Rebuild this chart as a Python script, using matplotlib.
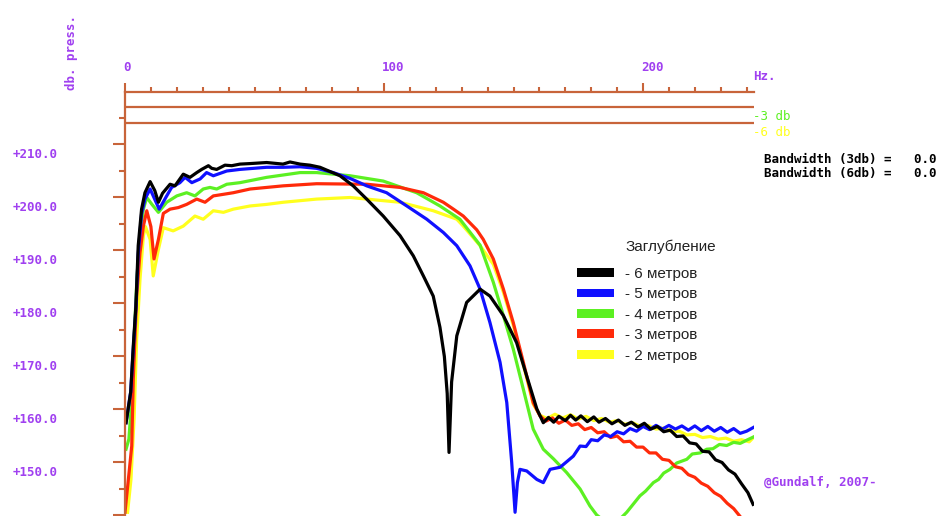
import matplotlib
matplotlib.use('Agg')
import matplotlib.pyplot as plt
from matplotlib.patches import Patch
from matplotlib.transforms import ScaledTranslation

# ---------------- data ----------------
x_major_ticks = [0, 100, 200]
x_major_labels = ['0', '100', '200']
x_minor_ticks = [10, 20, 30, 40, 50, 60, 70, 80, 90, 110, 120, 130, 140, 150, 160, 170, 180, 190, 210, 220, 230, 240]
y_major_ticks = [140, 150, 160, 170, 180, 190, 200, 210]
y_major_labels = ['', '+150.0', '+160.0', '+170.0', '+180.0', '+190.0', '+200.0', '+210.0']
y_minor_ticks = [145, 155, 165, 175, 185, 195, 205, 215]
level_lines = [217, 214]   # -3 db and -6 db reference lines

series_names = ['- 6 метров', '- 5 метров', '- 4 метров', '- 3 метров', '- 2 метров']

black_hz = [0.4, 2.2, 3.2, 4.2, 5.1, 6.4, 7.7, 9.7, 11.5, 12.9, 14.5, 17.4, 19.3, 22.5, 25.1, 27.7,
            29.6, 32.2, 33.5, 35.4, 38.6, 41.2, 44.4, 48.3, 54.7, 61.0, 63.7, 67.6, 71.4, 75.3, 83.0, 88.1, 93.3,
            99.7, 106.2, 111.3, 115.2, 119.0, 121.6, 123.3, 124.4, 125.1, 126.1, 128.1, 131.9, 137.1, 140.9,
            146.1, 151.2, 155.1, 159.0,
            161.5, 163.5, 165.5, 167.5, 170.0, 172.0, 174.0, 176.0, 178.5, 181.0, 183.0, 185.5, 188.0, 190.5,
            193.0, 195.5, 198.0, 200.5, 203.0, 205.5, 208.0, 210.5, 213.0, 215.5, 218.0, 220.5, 223.0, 225.5,
            228.0, 230.5, 233.0, 235.5, 238.0, 240.5, 242.5]
black_db = [157.5, 163.3, 172.0, 179.5, 190.9, 197.8, 200.9, 203.0, 201.3, 199.1, 200.8, 202.5, 202.2, 204.4,
            203.8, 204.7, 205.3, 206.0, 205.5, 205.3, 206.1, 206.0, 206.3, 206.4, 206.6, 206.3, 206.7, 206.3,
            206.1, 205.7, 204.1, 202.2, 199.7, 196.5, 192.8, 189.0, 185.2, 181.4, 175.5, 170.0, 163.0, 151.9,
            165.2, 173.9, 180.2, 182.7, 181.4, 177.7, 172.6, 166.3, 160.1,
            157.5, 158.5, 157.6, 158.7, 157.9, 158.9, 158.0, 158.8, 157.7, 158.6, 157.6, 158.3, 157.3, 158.0,
            157.0, 157.6, 156.7, 157.4, 156.3, 156.8, 155.8, 156.1, 154.9, 155.0, 153.7, 153.5, 152.1, 152.0,
            150.5, 150.0, 148.6, 147.8, 146.0, 144.3, 142.1]

blue_hz = [0.4, 2.2, 3.2, 4.2, 5.1, 6.4, 7.7, 9.7, 13.2, 16.1, 18.0, 21.2, 23.2, 25.8, 29.0, 31.5, 34.1, 39.3, 44.4,
           54.7, 61.1, 67.6, 74.0, 80.4, 86.9, 93.3, 101.0, 108.8, 116.5, 122.9, 128.1, 133.2, 137.1, 140.9, 144.8,
           147.4, 149.3, 150.6, 151.5, 152.5, 155.1, 159.0, 161.5, 164.1, 168.0, 173.1, 175.7,
           178.0, 180.0, 182.5, 185.0, 187.5, 190.0, 192.5, 195.0, 197.5, 200.0, 202.5, 205.0, 207.5, 210.0,
           212.5, 215.0, 217.5, 220.0, 222.5, 225.0, 227.5, 230.0, 232.5, 235.0, 237.5, 240.0, 242.6]
blue_db = [157.5, 163.3, 171.4, 178.9, 189.3, 196.9, 199.7, 201.6, 197.8, 200.3, 201.9, 202.8, 203.8, 202.8, 203.5,
           204.7, 204.1, 205.0, 205.3, 205.7, 205.7, 205.8, 205.5, 204.7, 203.6, 202.2, 200.9, 198.4, 195.9, 193.4,
           190.9, 187.1, 182.7, 176.4, 168.9, 161.3, 150.0, 140.6, 146.2, 148.7, 148.4, 146.8, 146.2, 148.7, 149.1,
           151.2, 153.1,
           153.0, 154.3, 154.1, 155.2, 154.9, 155.8, 155.4, 156.4, 155.9, 156.8, 156.2, 157.0, 156.3, 157.0,
           156.3, 156.9, 156.1, 156.9, 156.0, 156.8, 155.9, 156.6, 155.7, 156.4, 155.5, 155.9, 156.6]

green_hz = [0.4, 1.5, 2.6, 3.5, 4.6, 5.8, 7.1, 8.4, 10.4, 12.9, 16.1, 20.0, 23.8, 27.0, 30.2, 32.8, 35.4, 39.3, 44.4,
            54.7, 67.6, 74.0, 86.9, 99.7, 112.6, 121.6, 129.3, 137.1, 142.2, 146.1, 149.9, 153.8, 157.6, 161.5,
            165.4, 170.5, 175.7, 179.5, 182.1, 188.0, 193.7, 198.8, 201.0, 204.0, 206.0, 208.0, 210.4, 213.0,
            216.9, 219.0, 222.0, 224.6, 227.0, 229.5, 232.3, 235.0, 237.5, 240.0, 242.6]
green_db = [152.5, 154.4, 161.9, 173.3, 184.6, 193.1, 197.8, 200.0, 198.7, 197.2, 199.1, 200.3, 200.9, 200.3, 201.6,
            201.9, 201.6, 202.5, 202.8, 203.8, 204.7, 204.7, 204.1, 203.1, 200.9, 198.4, 195.9, 191.0, 184.0, 177.7,
            171.4, 163.8, 156.3, 152.5, 150.7, 148.1, 145.0, 141.8, 140.1, 137.8, 140.6, 143.7, 144.6, 146.2,
            146.8, 148.0, 148.7, 149.9, 150.6, 151.6, 151.8, 152.5, 152.6, 153.4, 153.2, 153.8, 153.6, 154.2,
            154.8]

red_hz = [0.0, 1.3, 2.6, 3.2, 4.5, 5.8, 7.1, 8.4, 10.0, 11.2, 12.9, 14.8, 17.4, 20.6, 23.8, 27.7, 30.9, 34.1, 38.0,
          41.8, 48.3, 54.7, 61.1, 67.6, 74.0, 93.3, 106.2, 115.2, 122.9, 126.8, 130.6, 135.8, 138.3, 142.2, 146.1,
          149.9, 153.8, 157.6, 160.2, 162.5, 165.0, 167.5, 170.0, 172.5, 175.0, 177.5, 180.0, 182.5, 185.0, 187.5,
          190.0, 192.5, 195.0, 197.5, 200.0, 202.5, 205.0, 207.5, 210.0, 212.5, 215.0, 217.5, 220.0, 222.5,
          225.0, 227.5, 230.0, 232.5, 235.0, 237.5, 239.4]
red_db = [140.6, 146.8, 153.1, 165.7, 181.4, 189.6, 194.6, 197.5, 194.5, 188.4, 192.1, 197.0, 197.8, 198.1, 198.7,
          199.7, 199.1, 200.3, 200.6, 200.9, 201.6, 201.9, 202.2, 202.4, 202.6, 202.5, 201.9, 200.9, 199.1, 197.8,
          196.5, 193.9, 192.1, 188.4, 182.7, 176.4, 168.9, 161.3, 158.8, 157.8, 158.4, 157.4, 158.0, 157.0, 157.3,
          156.2, 156.6, 155.6, 155.8, 154.7, 155.0, 153.9, 154.0, 152.9, 152.9, 151.8, 151.8, 150.6, 150.4, 149.2,
          148.9, 147.7, 147.2, 146.1, 145.5, 144.3, 143.6, 142.3, 141.3, 139.8, 138.4]

yellow_hz = [1.0, 2.3, 3.5, 4.5, 5.8, 7.1, 7.9, 9.7, 10.9, 12.9, 14.8, 18.6, 22.5, 27.0, 30.2, 34.1, 38.0, 41.8,
             48.3, 54.7, 61.1, 67.6, 74.0, 86.9, 93.3, 106.2, 119.0, 128.1, 130.6, 137.1, 142.2, 146.1, 149.9,
             153.8, 157.6, 160.2, 163.0, 166.0, 169.0, 172.0, 175.0, 178.0, 181.0, 184.0, 187.0, 190.0, 193.0,
             196.0, 199.0, 202.0, 205.0, 208.0, 211.0, 214.0, 217.0, 220.0, 223.0, 226.0, 229.0, 232.0, 235.0,
             238.0, 241.0, 242.6]
yellow_db = [140.6, 146.8, 158.2, 173.3, 184.6, 192.8, 194.5, 192.1, 185.2, 190.2, 194.3, 193.7, 194.6, 196.5, 195.9,
             197.5, 197.2, 197.8, 198.4, 198.7, 199.1, 199.4, 199.7, 200.0, 199.7, 199.1, 197.5, 195.9, 194.6, 190.9,
             187.4, 182.1, 175.9, 168.4, 161.0, 158.9, 158.3, 159.1, 158.4, 159.0, 158.2, 158.7, 157.9, 158.3,
             157.6, 157.9, 157.2, 157.5, 156.8, 157.0, 156.3, 156.5, 155.8, 155.9, 155.2, 155.3, 154.7, 154.9,
             154.4, 154.6, 154.0, 154.3, 153.9, 154.7]

# ---------------- style ----------------
W, H = 947, 516
AXC = '#c8643a'
PURPLE = '#a040f0'
C_BLACK, C_BLUE, C_GREEN, C_RED, C_YELLOW = '#000000', '#1010ff', '#5cf022', '#ff2a0a', '#ffff1e'
MONO = 'DejaVu Sans Mono'

fig = plt.figure(figsize=(W / 100, H / 100), dpi=100)
fig.patch.set_facecolor('white')
ax = fig.add_axes([125 / W, 0, 629.4 / W, (516 - 91.5) / H])
ax.set_xlim(0, 243)
ax.set_ylim(139.9, 220)

for lv in level_lines:
    ax.axhline(lv, color=AXC, lw=1.6)

for hz, db, c in [(yellow_hz, yellow_db, C_YELLOW), (green_hz, green_db, C_GREEN), (red_hz, red_db, C_RED),
                  (blue_hz, blue_db, C_BLUE), (black_hz, black_db, C_BLACK)]:
    ax.plot(hz, db, color=c, lw=2.3, solid_joinstyle='round')

for s in ['right', 'bottom']:
    ax.spines[s].set_visible(False)
for s in ['top', 'left']:
    ax.spines[s].set_color(AXC)
    ax.spines[s].set_linewidth(1.6)

ax.xaxis.set_ticks_position('top')
ax.set_xticks(x_major_ticks)
ax.set_xticklabels(x_major_labels)
ax.set_xticks(x_minor_ticks, minor=True)
ax.tick_params(axis='x', which='major', direction='out', length=6.5, width=1.5, color=AXC, pad=6.0,
               labelsize=9, labelcolor=PURPLE)
ax.tick_params(axis='x', which='minor', direction='out', length=3.6, width=1.5, color=AXC)

ax.yaxis.set_ticks_position('left')
ax.set_yticks(y_major_ticks)
ax.set_yticklabels(y_major_labels)
ax.set_yticks(y_minor_ticks, minor=True)
ax.tick_params(axis='y', which='major', direction='out', length=8.6, width=1.5, color=AXC, pad=40,
               labelsize=9, labelcolor=PURPLE)
ax.tick_params(axis='y', which='minor', direction='out', length=4.3, width=1.5, color=AXC)

for lbl in ax.get_xticklabels():
    lbl.set_fontfamily(MONO)
    lbl.set_fontweight('bold')
    lbl.set_horizontalalignment('left')
    lbl.set_transform(lbl.get_transform() + ScaledTranslation(-2 / 100, 0, fig.dpi_scale_trans))
for lbl in ax.get_yticklabels():
    lbl.set_fontfamily(MONO)
    lbl.set_fontweight('bold')
    lbl.set_transform(lbl.get_transform() + ScaledTranslation(0, -9 / 100, fig.dpi_scale_trans))

def ftext(x, y, s, **kw):
    fig.text(x / W, 1 - y / H, s, va='center', **kw)

ftext(72, 52, 'db. press.', rotation=90, ha='center', color=PURPLE, family=MONO, weight='bold', size=9)
ftext(753, 76, 'Hz.', ha='left', color=PURPLE, family=MONO, weight='bold', size=9)
ftext(753, 117, '-3 db', ha='left', color=C_GREEN, family=MONO, size=9)
ftext(753, 132.5, '-6 db', ha='left', color=C_YELLOW, family=MONO, size=9)
ftext(764, 159.5, 'Bandwidth (3db) =   0.0', ha='left', color='black', family=MONO, weight='bold', size=9)
ftext(764, 174, 'Bandwidth (6db) =   0.0', ha='left', color='black', family=MONO, weight='bold', size=9)
ftext(764, 482, '@Gundalf, 2007-', ha='left', color=PURPLE, family=MONO, weight='bold', size=9)
ftext(625, 247, 'Заглубление', ha='left', color='#222222', family='Liberation Sans', size=11)

handles = [Patch(facecolor=c, edgecolor='none') for c in [C_BLACK, C_BLUE, C_GREEN, C_RED, C_YELLOW]]
ax.legend(handles, series_names, loc='upper left', bbox_to_anchor=(577 / W, 1 - 267 / H),
          bbox_transform=fig.transFigure, frameon=False,
          prop={'family': 'Liberation Sans', 'size': 11}, labelcolor='#222222',
          handlelength=2.42, handleheight=0.52, handletextpad=0.7, labelspacing=0.42,
          borderpad=0, borderaxespad=0)

fig.savefig('out.png', dpi=100, facecolor='white')
